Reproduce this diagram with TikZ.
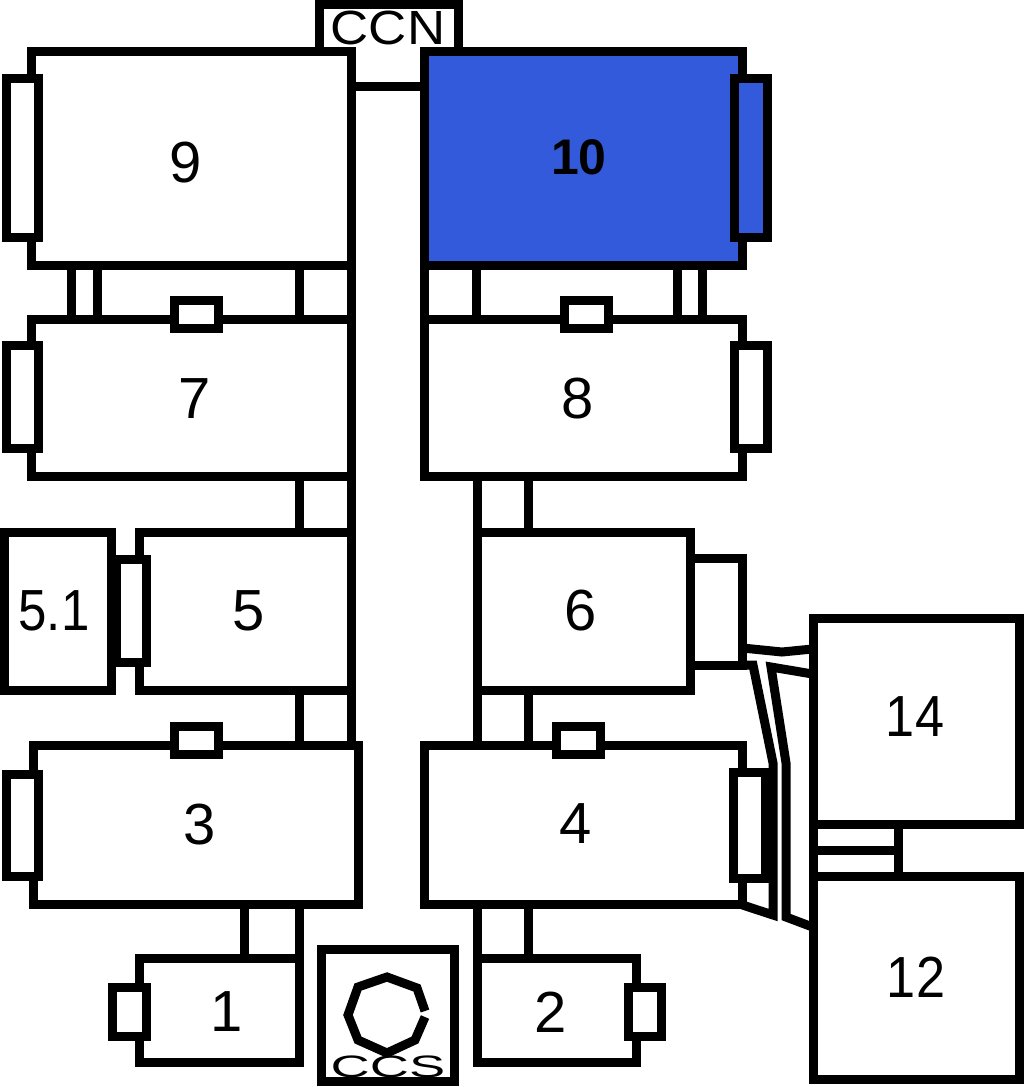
\documentclass[tikz,border=0pt]{standalone}
\usepackage{fontspec}
\setmainfont{Liberation Sans}
\usepackage{xcolor}
\definecolor{roomblue}{RGB}{52,90,220}
\begin{document}
\begin{tikzpicture}[x=1pt,y=-1pt,line width=9pt,
room/.style={shape=rectangle,draw=black,fill=white,inner sep=0pt},
tag/.style={font=\fontsize{58}{58}\selectfont,inner sep=0pt}]
\useasboundingbox(0,0)rectangle(1024,1087);
% rooms
\node[room,minimum width=320,minimum height=214](r9)at(191,158){};
\node[room,fill=roomblue,minimum width=318,minimum height=214](r10)at(583,158){};
\node[room,minimum width=320,minimum height=157](r7)at(191,397.5){};
\node[room,minimum width=318,minimum height=157](r8)at(583,397.5){};
\node[room,minimum width=212,minimum height=158](r5)at(245,611){};
\node[room,minimum width=107,minimum height=158](r51)at(57.5,611){};
\node[room,minimum width=213,minimum height=158](r6)at(583.5,611){};
\node[room,minimum width=52,minimum height=107](r6b)at(716,611.5){};
\node[room,minimum width=325,minimum height=159](r3)at(195.5,824.5){};
\node[room,minimum width=318,minimum height=159](r4)at(583,824.5){};
\node[room,minimum width=160,minimum height=104](r1)at(219,1010){};
\node[room,minimum width=159,minimum height=104](r2)at(556.5,1010){};
\node[room,minimum width=206,minimum height=206](r14)at(916,721){};
\node[room,minimum width=206,minimum height=203](r12)at(916,977.5){};
\node[room,minimum width=133,minimum height=132](ccs)at(387.5,1015){};
\node[minimum width=139,minimum height=47,inner sep=0pt,outer sep=0pt](ccn)at(388.5,27.5){};
\draw[line cap=butt](ccn.south west)--(ccn.north west)--(ccn.north east)--(ccn.south east);
% links
\foreach \x in {71,97,299,351}\draw(\x,0 |- r9.south)--(\x,0 |- r7.north);
\foreach \x in {424,476,677,702}\draw(\x,0 |- r10.south)--(\x,0 |- r8.north);
\foreach \x in {299,351}\draw(\x,0 |- r7.south)--(\x,0 |- r5.north);
\foreach \x in {477,528}\draw(\x,0 |- r8.south)--(\x,0 |- r6.north);
\foreach \x in {299,351}\draw(\x,0 |- r5.south)--(\x,0 |- r3.north);
\foreach \x in {477,528}\draw(\x,0 |- r6.south)--(\x,0 |- r4.north);
\foreach \x in {244,299}\draw(\x,0 |- r3.south)--(\x,0 |- r1.north);
\foreach \x in {477,528}\draw(\x,0 |- r4.south)--(\x,0 |- r2.north);
\draw(r9.east |- 0,86)--(r10.west |- 0,86);
\draw(813,0 |- r14.south)--(813,0 |- r12.north);
\draw(898,0 |- r14.south)--(898,0 |- r12.north);
\draw(813,850)--(898,850);
% ducts from 6 and 4 to 14 and 12
\draw([xshift=-4pt]r6b.east |- 0,648)--(782,652)--([xshift=4pt]r14.west |- 0,649);
\draw([xshift=4pt]r14.west |- 0,674)--(771,667)--(786,763)--(786,917)--([xshift=4pt]r12.west |- 0,927);
\draw([xshift=-4pt]r6b.east |- 0,665)--(753,665)--(773,763)--(773,915)--([xshift=-4pt]r4.east |- 0,905);
% side units
\node[room,minimum width=32,minimum height=159](u9)at(22,157.5){};
\node[room,fill=roomblue,minimum width=33,minimum height=159](u10)at(750.5,157.5){};
\node[room,minimum width=32,minimum height=103](u7)at(22,396.5){};
\node[room,minimum width=33,minimum height=103](u8)at(750.5,396.5){};
\node[room,minimum width=44,minimum height=28](s7)at(196,314){};
\node[room,minimum width=44,minimum height=28](s8)at(586,314){};
\node[room,minimum width=30,minimum height=103](u5)at(131,610.5){};
\node[room,minimum width=32,minimum height=102](u3)at(22,825){};
\node[room,minimum width=32,minimum height=106](u4)at(749,825){};
\node[room,minimum width=44,minimum height=28](s3)at(196,740){};
\node[room,minimum width=44,minimum height=28](s4)at(578,740){};
\node[room,minimum width=34,minimum height=49](u1)at(129,1011.5){};
\node[room,minimum width=33,minimum height=49](u2)at(644.5,1011.5){};
% ring
\draw(425,1011)--(417,988)--(387,977)--(358,987)--(348,1015)--(358,1040)--(387,1053)--(415,1040)--(425,1017);
% labels
\node[tag](t9)at(186,163){9};
\node[tag,font=\fontsize{50}{50}\selectfont\bfseries](t10)at(579,157){10};
\node[tag](t7)at(195,399){7};
\node[tag](t8)at(578,399){8};
\node[tag,xscale=.88](t51)at(54,611){5.1};
\node[tag](t5)at(249,611){5};
\node[tag](t6)at(581,611){6};
\node[tag](t3)at(200,825){3};
\node[tag](t4)at(576,824){4};
\node[tag](t1)at(227,1012){1};
\node[tag](t2)at(551,1012){2};
\node[tag,xscale=.9](t14)at(915,717){14};
\node[tag,xscale=.9](t12)at(916,977){12};
\node[tag,font=\fontsize{48}{48}\selectfont,xscale=1.1](tccn)at(388,28){CCN};
\node[tag,font=\fontsize{31}{31}\selectfont,xscale=1.75](tccs)at(388,1067){CCS};
\end{tikzpicture}
\end{document}
